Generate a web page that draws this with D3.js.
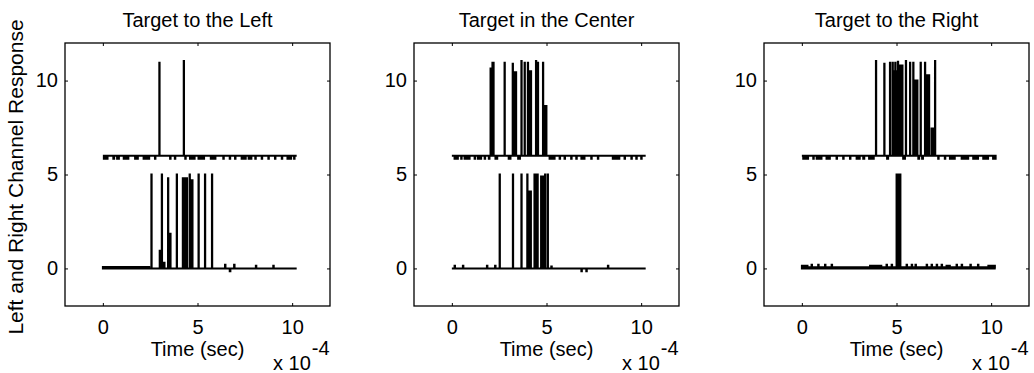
<!DOCTYPE html>
<html><head><meta charset="utf-8">
<script src="https://cdn.jsdelivr.net/npm/d3@7"></script>
<style>
body{margin:0;background:#fff}
text{font-family:"Liberation Sans",Arial,Helvetica,sans-serif;fill:#000}
</style>
</head><body><svg id="c" width="1034" height="373"></svg>
<script>
// ---------------- data ----------------
const panelTitles = ["Target to the Left", "Target in the Center", "Target to the Right"];
const xTicks = [0, 5, 10];
const yTicks = [0, 5, 10];
const xDomain = [-2, 12];          // units of 1e-4 s
const yDomain = [-2, 12];
const recordStart = 0, recordEnd = 10.24;
const rightChannelOffset = 6;
const xLabel = "Time (sec)";
const yLabel = "Left and Right Channel Response";
const xExponent = "-4";

// each entry: [tStart, tEnd, value]  (time in 1e-4 s, value relative to the trace baseline)
const leftChannelTargetLeft = [
  [0.00,2.45,0.08],[2.56,2.58,5.0],[3.00,3.08,0.95],[3.11,3.13,5.0],[3.22,3.26,0.3],
  [3.44,3.46,4.8],[3.50,3.58,1.85],[3.90,3.92,5.0],[4.22,4.45,4.8],[4.58,4.60,5.0],
  [4.64,4.74,4.7],[5.05,5.07,5.0],[5.39,5.41,5.0],[5.76,5.78,5.0],[6.45,6.48,0.2],
  [6.70,6.74,-0.15],[6.93,6.96,0.2],[8.08,8.11,0.15],[9.00,9.03,0.15]
];
const rightChannelTargetLeft = [
  [0.05,0.25,-0.17],[0.55,0.60,-0.17],[0.75,0.85,-0.17],[1.10,1.35,-0.17],[1.70,1.85,-0.17],
  [2.15,2.45,-0.17],[2.75,2.78,-0.17],[2.98,3.00,4.95],[3.55,3.58,-0.17],[3.80,3.83,-0.17],
  [4.27,4.29,5.05],[4.35,4.38,-0.17],[4.60,4.85,-0.17],[5.05,5.35,-0.17],[5.70,5.95,-0.17],
  [6.36,6.39,-0.17],[6.70,6.73,-0.17],[6.98,7.01,-0.17],[7.33,7.55,-0.17],[7.70,7.85,-0.17],
  [8.05,8.08,-0.17],[8.39,8.42,-0.17],[8.74,8.77,-0.17],[9.09,9.12,-0.17],[9.45,9.48,-0.17],
  [9.75,9.95,-0.17],[10.10,10.13,-0.17]
];
const leftChannelTargetCenter = [
  [0.14,0.17,0.15],[0.58,0.61,0.15],[1.85,1.88,0.15],[2.28,2.31,0.15],[2.52,2.54,5.0],
  [3.22,3.24,5.0],[3.67,3.69,5.0],[3.98,4.00,5.0],[4.04,4.18,4.1],[4.36,4.54,5.0],
  [4.71,4.84,4.9],[4.92,4.94,5.0],[5.06,5.08,5.0],[5.25,5.28,0.1],[6.84,6.87,-0.15],
  [7.10,7.13,-0.15],[8.24,8.27,0.15]
];
const rightChannelTargetCenter = [
  [0.14,0.32,-0.17],[0.49,0.52,-0.17],[0.67,0.94,-0.17],[1.20,1.23,-0.17],[1.37,1.55,-0.17],
  [1.73,1.76,-0.17],[1.95,1.99,-0.17],[2.04,2.14,4.65],[2.14,2.21,4.95],[2.30,2.40,-0.17],
  [2.78,2.80,4.95],[3.00,3.10,-0.17],[3.21,3.23,4.9],[3.25,3.40,4.45],[3.50,3.60,-0.17],
  [3.67,3.69,5.05],[3.84,3.86,4.95],[4.01,4.03,4.95],[4.07,4.19,4.5],[4.44,4.46,5.05],
  [4.54,4.56,4.95],[4.81,4.83,4.95],[4.86,5.00,2.65],[5.16,5.43,-0.17],[5.69,5.72,-0.17],
  [5.95,5.98,-0.17],[6.30,6.33,-0.17],[6.57,6.60,-0.17],[6.84,7.01,-0.17],[7.36,7.39,-0.17],
  [7.71,7.74,-0.17],[8.50,8.85,-0.17],[9.12,9.15,-0.17],[9.48,9.51,-0.17],[9.74,9.77,-0.17],
  [10.00,10.03,-0.17]
];
const leftChannelTargetRight = [
  [0.00,0.30,0.14],[0.30,0.51,0.07],[0.51,0.54,0.2],[0.54,0.86,0.07],[0.86,0.89,0.2],
  [0.89,1.22,0.07],[1.22,1.25,0.2],[1.25,1.57,0.07],[1.57,1.60,0.2],[1.60,3.60,0.06],
  [3.60,4.20,0.14],[4.20,4.47,0.07],[4.47,4.50,0.2],[4.50,4.74,0.07],[4.74,4.77,0.2],
  [4.77,5.00,0.07],[5.00,5.21,5.0],[5.21,5.53,0.07],[5.53,5.56,0.2],[5.56,5.80,0.07],
  [5.80,5.83,0.2],[5.83,6.00,0.07],[6.00,6.03,0.2],[6.03,6.59,0.07],[6.59,6.62,0.2],
  [6.62,6.85,0.07],[6.85,6.88,0.2],[6.88,7.12,0.07],[7.12,7.15,0.2],[7.15,7.38,0.07],
  [7.38,7.41,0.2],[7.41,7.64,0.07],[7.64,7.82,0.14],[7.82,8.17,0.07],[8.17,8.20,0.2],
  [8.20,8.44,0.07],[8.44,8.47,0.2],[8.47,8.90,0.07],[8.90,8.93,0.2],[8.93,9.30,0.07],
  [9.30,9.33,0.2],[9.33,9.85,0.07],[9.85,10.20,0.14]
];
const rightChannelTargetRight = [
  [0.07,0.33,-0.17],[0.60,0.63,-0.17],[0.78,1.04,-0.17],[1.30,1.48,-0.17],[1.83,1.86,-0.17],
  [2.18,2.21,-0.17],[2.54,2.57,-0.17],[2.89,3.06,-0.17],[3.24,3.30,-0.17],[3.55,3.80,-0.17],
  [3.91,3.93,5.05],[4.35,4.37,4.9],[4.50,4.56,-0.17],[4.65,4.67,4.95],[4.79,4.81,4.95],
  [4.88,4.93,4.5],[4.93,4.95,4.95],[4.95,5.07,4.5],[5.07,5.09,5.0],[5.18,5.32,4.8],
  [5.35,5.45,-0.17],[5.49,5.51,5.05],[5.71,5.73,4.95],[5.88,5.90,4.95],[6.00,6.11,4.0],
  [6.15,6.20,-0.17],[6.27,6.29,4.95],[6.35,6.40,-0.17],[6.50,6.52,4.95],[6.59,6.73,4.28],
  [6.85,6.97,1.45],[7.03,7.05,5.05],[7.20,7.23,-0.17],[7.55,7.58,-0.17],[7.82,8.08,-0.17],
  [8.44,8.79,-0.17],[9.05,9.31,-0.17],[9.58,9.84,-0.17],[10.10,10.24,-0.17]
];

const panelData = [
  {title: panelTitles[0], left: leftChannelTargetLeft,   right: rightChannelTargetLeft},
  {title: panelTitles[1], left: leftChannelTargetCenter, right: rightChannelTargetCenter},
  {title: panelTitles[2], left: leftChannelTargetRight,  right: rightChannelTargetRight}
];

// ---------------- layout ----------------
const svg = d3.select("#c");
const panelLeft = [65, 414, 764];
const panelWidth = 265;
const plotTop = 43, plotBottom = 306;
const FS = 20;
const tickLen = 3;

function tracePoints(segs, base) {
  const pts = [[recordStart, base, base]];
  segs.slice().sort((a,b)=>a[0]-b[0]).forEach(([t0,t1,v]) => {
    pts.push([t0, base, base + v]);
    pts.push([t1, base, base]);
  });
  pts.push([recordEnd, base, base]);
  return pts;
}

panelData.forEach((p, i) => {
  const x = d3.scaleLinear().domain(xDomain).range([panelLeft[i], panelLeft[i] + panelWidth]);
  const y = d3.scaleLinear().domain(yDomain).range([plotBottom, plotTop]);
  const g = svg.append("g");

  // traces
  const area = d3.area().curve(d3.curveStepAfter)
    .x(d => x(d[0])).y0(d => y(d[1])).y1(d => y(d[2]));
  [[p.left, 0], [p.right, rightChannelOffset]].forEach(([segs, base]) => {
    g.append("path").datum(tracePoints(segs, base))
      .attr("d", area)
      .attr("fill", "#000").attr("stroke", "#000")
      .attr("stroke-width", 1.9).attr("stroke-linejoin", "miter");
  });

  // axes
  const ax = (gen, tr) => {
    const a = g.append("g").attr("transform", tr).call(gen);
    a.select(".domain").remove();
    a.selectAll("line").attr("stroke", "#000").attr("stroke-width", 1);
    a.selectAll("text").attr("font-size", FS).attr("font-family", null).attr("fill", "#000");
    return a;
  };
  ax(d3.axisBottom(x).tickValues(xTicks).tickSizeInner(-tickLen).tickSizeOuter(0).tickPadding(13.5),
     `translate(0,${plotBottom})`);
  ax(d3.axisTop(x).tickValues(xTicks).tickSizeInner(-tickLen).tickSizeOuter(0).tickFormat(""),
     `translate(0,${plotTop})`);
  ax(d3.axisLeft(y).tickValues(yTicks).tickSizeInner(-tickLen).tickSizeOuter(0).tickPadding(7),
     `translate(${panelLeft[i]},0)`);
  ax(d3.axisRight(y).tickValues(yTicks).tickSizeInner(-tickLen).tickSizeOuter(0).tickFormat(""),
     `translate(${panelLeft[i] + panelWidth},0)`);

  // box
  g.append("rect").attr("x", panelLeft[i]).attr("y", plotTop)
    .attr("width", panelWidth).attr("height", plotBottom - plotTop)
    .attr("fill", "none").attr("stroke", "#000").attr("stroke-width", 1.3);

  const cx = panelLeft[i] + panelWidth / 2;
  g.append("text").attr("x", cx).attr("y", 27).attr("text-anchor", "middle")
    .attr("font-size", FS).text(p.title);
  g.append("text").attr("x", cx).attr("y", 356).attr("text-anchor", "middle")
    .attr("font-size", FS).text(xLabel);
  const ex = g.append("text").attr("x", panelLeft[i] + panelWidth - 57).attr("y", 370)
    .attr("font-size", FS);
  ex.append("tspan").text("x 10");
  ex.append("tspan").attr("dy", -15).attr("dx", 1).text(xExponent);
});

svg.append("text")
  .attr("transform", `translate(23,177) rotate(-90)`)
  .attr("text-anchor", "middle").attr("font-size", 21).text(yLabel);
</script>
</body></html>
